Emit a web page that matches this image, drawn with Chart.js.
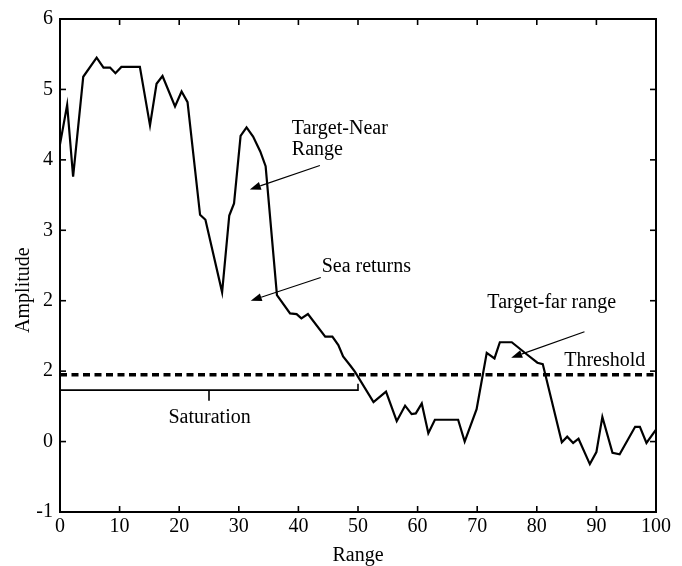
<!DOCTYPE html>
<html><head><meta charset="utf-8">
<script src="https://cdn.jsdelivr.net/npm/chart.js@4.4.1/dist/chart.umd.min.js"></script>
<style>html,body{margin:0;padding:0;background:#fff}</style>
</head><body>
<canvas id="c" width="682" height="566" style="width:682px;height:566px;display:block"></canvas>
<script>
// ---- data ----
const rangeX = [0, 1.2, 2.2, 3.9, 6.15, 7.3, 8.4, 9.3, 10.3, 13.4, 15.1, 16.2, 17.2, 19.3, 20.4, 21.4, 23.5, 24.4, 27.2, 28.4, 29.2, 30.3, 31.3, 32.4, 33.6, 34.5, 36.4, 38.6, 39.7, 40.5, 41.6, 44.5, 45.7, 46.7, 47.5, 48.7, 49.5, 52.6, 54.7, 56.5, 57.9, 59, 59.7, 60.7, 61.8, 62.9, 66.8, 67.9, 69.9, 71.6, 72.9, 73.8, 75.8, 78.3, 80.1, 81, 84.2, 85.1, 86.1, 87, 88.9, 90, 91, 92.7, 93.9, 96.5, 97.3, 98.4, 100];
const amplitude = [4.22, 4.78, 3.76, 5.18, 5.45, 5.31, 5.31, 5.23, 5.32, 5.32, 4.49, 5.08, 5.19, 4.76, 4.97, 4.82, 3.22, 3.15, 2.12, 3.21, 3.38, 4.34, 4.46, 4.33, 4.12, 3.91, 2.08, 1.82, 1.81, 1.75, 1.81, 1.49, 1.49, 1.37, 1.21, 1.08, 0.99, 0.56, 0.71, 0.29, 0.51, 0.39, 0.40, 0.54, 0.12, 0.31, 0.31, 0.0, 0.46, 1.26, 1.18, 1.41, 1.41, 1.24, 1.12, 1.10, -0.01, 0.07, -0.02, 0.04, -0.32, -0.15, 0.35, -0.16, -0.18, 0.21, 0.21, -0.02, 0.17];
const xTickValues = [0, 10, 20, 30, 40, 50, 60, 70, 80, 90, 100];
const yTickValues = [-1, 0, 1, 2, 3, 4, 5, 6];
const yTickLabels = ['-1', '0', '2', '2', '3', '4', '5', '6'];
const thresholdLevel = 0.95;
const saturationX = [0, 0, 50, 50];
const saturationY = [0.86, 0.73, 0.73, 0.82];
const saturationMarkX = [25, 25];
const saturationMarkY = [0.73, 0.58];
const noteTexts = ['Target-Near', 'Range', 'Sea returns', 'Target-far range', 'Threshold', 'Saturation'];
const noteX = [38.9, 38.9, 43.9, 71.7, 84.6, 25.1];
const noteY = [4.37, 4.07, 2.41, 1.90, 1.08, 0.26];
const arrowFromX = [43.6, 43.75, 88.0];
const arrowFromY = [3.92, 2.33, 1.56];
const arrowToX = [31.85, 32.0, 75.7];
const arrowToY = [3.58, 2.00, 1.19];

const pts = (xs, ys) => xs.map((v, i) => ({x: v, y: ys[i]}));
const FONT = '"Liberation Serif", "Times New Roman", serif';
Chart.defaults.font.family = FONT;
Chart.defaults.font.size = 20;
Chart.defaults.color = '#000';

const framePlugin = {
  id: 'frame',
  afterDraw(chart) {
    const {ctx, chartArea: a, scales: {x, y}} = chart;
    ctx.save();
    ctx.strokeStyle = '#000';
    ctx.fillStyle = '#000';
    ctx.lineWidth = 2;
    ctx.strokeRect(a.left, a.top, a.right - a.left, a.bottom - a.top);
    const seg = (x1, y1, x2, y2) => { ctx.beginPath(); ctx.moveTo(x1, y1); ctx.lineTo(x2, y2); ctx.stroke(); };
    const tl = 6;
    ctx.lineWidth = 1.6;
    xTickValues.forEach(v => { const p = x.getPixelForValue(v); seg(p, a.bottom, p, a.bottom - tl); seg(p, a.top, p, a.top + tl); });
    yTickValues.forEach(v => { const p = y.getPixelForValue(v); seg(a.left, p, a.left + tl, p); seg(a.right, p, a.right - tl, p); });
    // annotation texts
    ctx.font = '20px ' + FONT;
    ctx.textBaseline = 'alphabetic';
    noteTexts.forEach((t, i) => {
      ctx.textAlign = (t === 'Saturation') ? 'center' : 'left';
      ctx.fillText(t, x.getPixelForValue(noteX[i]), y.getPixelForValue(noteY[i]));
    });
    // arrows
    ctx.lineWidth = 1.2;
    arrowFromX.forEach((fx, i) => {
      const x1 = x.getPixelForValue(fx), y1 = y.getPixelForValue(arrowFromY[i]);
      const x2 = x.getPixelForValue(arrowToX[i]), y2 = y.getPixelForValue(arrowToY[i]);
      const ang = Math.atan2(y2 - y1, x2 - x1);
      const L = 11, W = 4;
      const bx = x2 - L * Math.cos(ang), by = y2 - L * Math.sin(ang);
      seg(x1, y1, bx, by);
      ctx.beginPath();
      ctx.moveTo(x2, y2);
      ctx.lineTo(bx + W * Math.sin(ang), by - W * Math.cos(ang));
      ctx.lineTo(bx - W * Math.sin(ang), by + W * Math.cos(ang));
      ctx.closePath();
      ctx.fill();
    });
    // axis titles
    ctx.textAlign = 'center';
    ctx.textBaseline = 'middle';
    ctx.fillText('Range', (a.left + a.right) / 2, a.bottom + 44);
    ctx.save();
    ctx.translate(a.left - 36, y.getPixelForValue(2.15));
    ctx.rotate(-Math.PI / 2);
    ctx.fillText('Amplitude', 0, 0);
    ctx.restore();
    ctx.restore();
  }
};

new Chart(document.getElementById('c'), {
  type: 'scatter',
  data: {
    datasets: [
      {data: pts(rangeX, amplitude), showLine: true, borderColor: '#000', borderWidth: 2.2, pointRadius: 0, tension: 0, clip: false},
      {data: pts([0, 100], [thresholdLevel, thresholdLevel]), showLine: true, borderColor: '#000', borderWidth: 3.5, borderDash: [7, 4.5], pointRadius: 0, borderCapStyle: 'butt'},
      {data: pts(saturationX, saturationY), showLine: true, borderColor: '#000', borderWidth: 1.6, pointRadius: 0},
      {data: pts(saturationMarkX, saturationMarkY), showLine: true, borderColor: '#000', borderWidth: 1.6, pointRadius: 0}
    ]
  },
  options: {
    responsive: false,
    animation: false,
    devicePixelRatio: 1,
    layout: {padding: {top: 15, right: 26, left: 0, bottom: 0}},
    plugins: {legend: {display: false}, tooltip: {enabled: false}},
    scales: {
      x: {
        type: 'linear', min: 0, max: 100,
        afterFit: s => { s.height = 54; },
        afterBuildTicks: s => { s.ticks = xTickValues.map(v => ({value: v})); },
        grid: {display: false, drawTicks: false},
        border: {display: false},
        ticks: {padding: 3, maxRotation: 0, autoSkip: false, font: {size: 20}}
      },
      y: {
        type: 'linear', min: -1, max: 6,
        afterFit: s => { s.width = 60; },
        afterBuildTicks: s => { s.ticks = yTickValues.map(v => ({value: v})); },
        grid: {display: false, drawTicks: false},
        border: {display: false},
        ticks: {padding: 7, autoSkip: false, font: {size: 20}, callback: v => yTickLabels[yTickValues.indexOf(v)]}
      }
    }
  },
  plugins: [framePlugin]
});
</script>
</body></html>
